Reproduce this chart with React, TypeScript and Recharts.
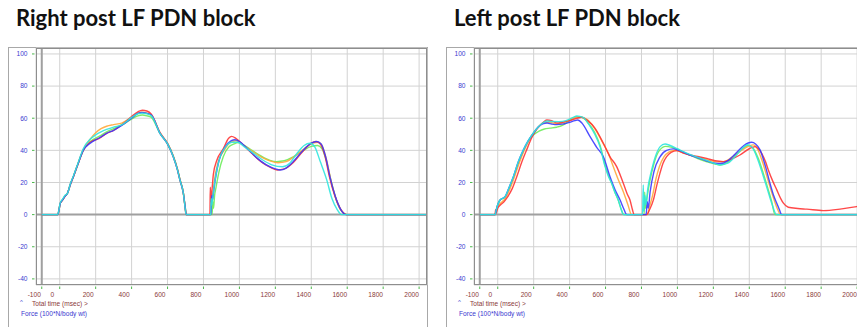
import React from 'react';
import { LineChart, Line, XAxis, YAxis, CartesianGrid, ReferenceLine } from 'recharts';

const X_TICKS = [-100, 0, 200, 400, 600, 800, 1000, 1200, 1400, 1600, 1800, 2000];
const Y_TICKS = [-40, -20, 0, 20, 40, 60, 80, 100];
const X_DOMAIN = [-132, 2044];
const Y_DOMAIN = [-43.8, 103.7];

const TITLE_RIGHT = 'Right post LF PDN block';
const TITLE_LEFT = 'Left post LF PDN block';
const X_CAPTION = 'Total time (msec) >';
const Y_CAPTION = 'Force (100*N/body wt)';

const COLORS = {
  red: '#ff3434',
  orange: '#ffa83a',
  green: '#6bec5a',
  blue: '#3a3aff',
  cyan: '#2fe6de',
};

// Panel 1: Right post LF PDN block  ([time msec, force])
const R_RED = [[-100,0],[-10,0],[-4,3],[3,7],[15,9],[30,11.5],[42,13],[60,19],[76,23.6],[100,31],[131,40],[170,45],[220,47.5],[261,50.5],[300,52.5],[345,55.8],[400,61],[435,64],[460,65],[485,64.5],[510,62.5],[558,51],[600,44],[632,36],[655,28],[669,21.6],[688,13.3],[697,5],[703,0],[836,0],[838,17],[842,8],[848,16],[855,25],[875,34],[910,41],[940,47.5],[957,48.7],[980,47.5],[1020,43.5],[1070,38],[1120,33],[1170,29.5],[1210,27.8],[1250,28.5],[1300,32.5],[1350,39],[1400,44.5],[1425,45.5],[1450,44],[1475,37],[1500,24],[1530,12],[1560,4],[1595,0],[2044,0]];
const R_ORANGE = [[-100,0],[-10,0],[-4,3],[3,7],[15,9],[30,11.5],[42,13],[60,19],[76,23.6],[100,31],[131,40.5],[170,47],[200,51],[230,53.5],[261,55],[300,56],[345,57],[400,60.5],[435,63],[458,63.8],[485,63.2],[510,62],[558,51],[600,44.5],[632,36.5],[655,28.5],[669,22],[688,13.5],[698,5],[704,0],[838,0],[845,6],[852,12],[862,22],[880,32],[915,40],[950,45],[980,46],[1020,43.5],[1070,39.5],[1120,36],[1170,33.5],[1215,32.3],[1260,33],[1310,36.5],[1360,41],[1410,44.5],[1440,45],[1460,43],[1485,34],[1510,21],[1540,9],[1570,2],[1595,0],[2044,0]];
const R_GREEN = [[-100,0],[-10,0],[-4,3],[3,7],[15,9],[30,11.5],[42,13],[60,19],[76,23.6],[100,31],[131,40],[170,45.5],[224,49],[261,51.5],[300,53.5],[345,55.8],[400,59.5],[435,61.5],[460,62],[485,61.5],[510,60.5],[558,50.5],[600,44],[632,36.5],[655,28.5],[669,22],[688,13.5],[698,5],[706,0],[848,0],[852,8],[856,4],[862,12],[870,17],[885,26],[910,36],[940,42],[970,44],[994,44.8],[1020,43.5],[1070,40],[1120,36.5],[1170,33.8],[1207,33],[1250,33.5],[1300,36],[1350,39.5],[1400,42.5],[1435,43],[1460,41],[1485,33],[1510,21],[1540,9],[1570,2],[1600,0],[2044,0]];
const R_BLUE = [[-100,0],[-10,0],[-4,3],[3,7],[15,9],[30,11.5],[42,13],[60,19],[76,23.6],[100,31],[131,40],[170,44.5],[224,48],[261,50.6],[300,52.5],[345,55.5],[400,60],[435,63],[458,63.6],[485,63],[510,62],[558,50.6],[600,44],[632,36],[655,28],[669,21.6],[688,13.3],[698,5],[704,0],[842,0],[846,12],[850,9],[856,14],[866,22],[885,33],[920,42],[955,46],[975,46.6],[1000,45.5],[1050,40.5],[1100,35],[1150,31],[1200,28.5],[1226,27.8],[1260,29],[1300,33],[1350,39.5],[1400,44.5],[1430,45.5],[1455,44],[1480,36],[1505,23],[1535,11],[1565,3],[1595,0],[2044,0]];
const R_CYAN = [[-100,0],[-12,0],[-6,2],[2,7],[15,9.5],[30,12],[42,13],[60,19.5],[76,24],[100,31.5],[131,41],[170,47],[200,49.6],[230,51.5],[261,53],[300,54.5],[345,55.8],[400,60.5],[435,62.8],[458,63.2],[485,62.8],[510,61.5],[558,50.6],[600,44],[632,36],[655,28],[669,21.6],[688,13.3],[697,5],[703,0],[840,0],[843,10],[847,6],[855,14],[868,24],[890,35],[925,42.5],[960,45],[990,45],[1030,42],[1080,38],[1130,34],[1180,31],[1240,29.8],[1280,32],[1320,38],[1360,43],[1393,44.4],[1420,42],[1450,33],[1486,21.6],[1515,10],[1545,3],[1569,0],[2044,0]];

// Panel 2: Left post LF PDN block
const L_RED = [[-100,0],[-15,0],[-12,3],[-8,1],[0,4],[15,6],[35,8],[55,11],[80,16],[106,23.6],[135,33],[161,40.3],[190,48],[220,53.5],[250,57],[273,58.9],[300,58.5],[328,57],[360,57.5],[400,58.5],[440,60],[467,60.6],[500,58.5],[540,54],[588,44.4],[625,36],[662,29.9],[699,19.5],[720,13],[736,9.1],[750,3],[759,0],[829,0],[845,3],[866,9],[885,18],[903,25.8],[920,32],[940,36.1],[965,38.8],[996,39.8],[1030,38.5],[1070,37.1],[1120,36],[1163,35],[1210,33.5],[1255,33],[1300,34.5],[1348,37.1],[1400,41],[1432,42.3],[1450,41],[1469,38.2],[1490,33],[1506,27.8],[1530,21],[1553,15.4],[1575,10],[1590,7.1],[1617,4.6],[1670,3.8],[1720,3.4],[1812,2.5],[1905,3.4],[1998,5],[2044,5.5]];
const L_ORANGE = [[-100,0],[-15,0],[-10,2],[0,5],[20,7.5],[41,10],[60,14],[85,21],[110,29],[140,38],[170,45.5],[200,51],[230,55],[260,57.5],[290,57.5],[328,56.5],[360,57],[400,59],[440,60.8],[470,60.5],[500,59],[540,53.5],[588,44],[616,38],[643,29.9],[670,22],[700,14],[725,6],[745,0],[832,0],[845,5],[862,12],[880,22],[900,30],[925,36],[955,39],[985,40],[1020,39],[1070,37],[1120,35.5],[1170,34],[1220,32.8],[1260,33],[1300,35.5],[1350,39.5],[1400,42.8],[1422,43.4],[1445,41],[1470,34],[1500,23],[1530,12],[1555,4],[1575,0],[2044,0]];
const L_GREEN = [[-100,0],[-14,0],[-8,3],[3,7],[13,9],[41,11],[60,15.5],[87,23],[115,32],[143,39.5],[170,45.5],[198,49.5],[230,52],[260,53.3],[291,53.8],[328,54.4],[360,55.5],[400,58.5],[440,61],[470,60.5],[500,57.5],[540,51],[570,43],[597,31],[615,25],[634,19.5],[652,14],[671,9],[688,3],[702,0],[815,0],[818,14],[822,4],[830,10],[845,20],[870,32],[900,40],[935,42.5],[965,42],[1010,40],[1060,37.5],[1110,35],[1160,33],[1210,31.5],[1237,30.9],[1280,32.5],[1320,36.5],[1360,41],[1395,43],[1420,41.5],[1450,35],[1480,25],[1506,15.4],[1525,8],[1543,0],[2044,0]];
const L_BLUE = [[-100,0],[-14,0],[-8,3],[3,7],[13,9.1],[41,11.2],[60,16],[87,23.6],[115,33],[143,40.3],[170,46],[198,50.6],[225,54.5],[250,56.5],[275,57],[300,56.4],[330,56],[360,56.3],[400,57.5],[430,58.5],[445,58.9],[470,56.8],[514,48.5],[550,42],[588,36],[625,23.6],[655,15],[681,9.1],[700,4],[718,0],[826,0],[832,8],[838,4],[848,14],[870,27],[903,36],[940,40],[977,40.9],[1010,40],[1060,37.5],[1110,35.5],[1160,33.5],[1210,32],[1240,31.8],[1280,33.5],[1320,37.5],[1370,43],[1413,45],[1435,44],[1460,40.3],[1490,30],[1515,19.5],[1535,12],[1553,7.1],[1568,3],[1580,0],[2044,0]];
const L_CYAN = [[-100,0],[-15,0],[-8,3],[3,7],[13,9.1],[41,11.2],[60,16],[87,23.6],[115,33],[143,40.3],[170,46],[198,50.8],[226,54.5],[250,57],[275,58.3],[300,58],[340,57.9],[380,58.5],[420,60.5],[440,61.4],[475,60.5],[505,56.5],[540,50],[570,42],[597,30],[615,24],[634,19.5],[652,14],[671,9.1],[688,3],[699,0],[806,0],[810,18.5],[813,2],[818,12],[825,6],[835,16],[855,27],[880,37],[904,42.3],[931,44],[960,43],[1000,41],[1033,39.2],[1080,37],[1130,35],[1180,33],[1237,30.9],[1280,32],[1320,36],[1360,41],[1390,43.5],[1415,42],[1445,35],[1475,25],[1500,16],[1525,7],[1552,0],[2044,0]];

const toRows = (pairs: number[][]) => pairs.map(([t, v]) => ({ t, v }));

const AXIS_FONT = '"Liberation Sans", Arial, sans-serif';

const XTick = (props: any) => {
  const { x, y, payload } = props;
  return (
    <g>
      <line x1={x} x2={x} y1={y + 1.5} y2={y + 4} stroke="#4cb84c" strokeWidth={1} />
      <text x={x - 7.5} y={y + 12} textAnchor="middle" fontSize={6.6} fill="#8a3a3a" fontFamily={AXIS_FONT}>
        {payload.value}
      </text>
    </g>
  );
};

const YTick = (props: any) => {
  const { x, y, payload } = props;
  return (
    <g>
      <line x1={x - 4} x2={x - 1.5} y1={y} y2={y} stroke="#4cb84c" strokeWidth={1} />
      <text x={x - 8.5} y={y + 2.3} textAnchor="end" fontSize={6.6} fill="#3a3ad0" fontFamily={AXIS_FONT}>
        {payload.value}
      </text>
    </g>
  );
};

type SeriesDef = { name: string; color: string; pairs: number[][] };

const Panel = ({ offset, title, series }: { offset: number; title: string; series: SeriesDef[] }) => (
  <div style={{ position: 'absolute', left: offset, top: 0, width: 430, height: 327 }}>
    <div
      style={{
        position: 'absolute',
        left: 16,
        top: 6,
        fontFamily: 'Lato, "Open Sans", sans-serif',
        fontWeight: 700,
        fontSize: 22,
        lineHeight: '24px',
        color: '#111',
        whiteSpace: 'nowrap',
      }}
    >
      {title}
    </div>
    <div
      style={{
        position: 'absolute',
        left: 8,
        top: 47,
        width: 420,
        height: 300,
        boxSizing: 'border-box',
        border: '1px solid #a8a8a8',
      }}
    />
    <div style={{ position: 'absolute', left: 8, top: 47 }}>
      <LineChart width={420} height={280} margin={{ top: 1, right: 1, bottom: 0, left: 0 }}>
        <CartesianGrid stroke="#d2d2d2" strokeWidth={1} />
        <XAxis
          type="number"
          dataKey="t"
          domain={X_DOMAIN}
          ticks={X_TICKS}
          allowDataOverflow
          axisLine={false}
          tickLine={false}
          tickSize={0}
          tickMargin={0}
          height={42}
          interval={0}
          tick={<XTick />}
        />
        <YAxis
          type="number"
          dataKey="v"
          domain={Y_DOMAIN}
          ticks={Y_TICKS}
          allowDataOverflow
          axisLine={false}
          tickLine={false}
          tickSize={0}
          tickMargin={0}
          width={28}
          interval={0}
          tick={<YTick />}
        />
        <ReferenceLine x={-100} stroke="#a0a0a0" strokeWidth={2} />
        <ReferenceLine y={0} stroke="#a0a0a0" strokeWidth={2} />
        {series.map((s) => (
          <Line
            key={s.name}
            name={s.name}
            data={toRows(s.pairs)}
            dataKey="v"
            type="monotone"
            stroke={s.color}
            strokeWidth={1.4}
            strokeOpacity={0.9}
            dot={false}
            activeDot={false}
            isAnimationActive={false}
          />
        ))}
      </LineChart>
    </div>
    <div
      style={{
        position: 'absolute',
        left: 36,
        top: 48,
        width: 391,
        height: 237,
        boxSizing: 'border-box',
        border: '1.5px solid #8e8e8e',
        pointerEvents: 'none',
      }}
    />
    <svg style={{ position: 'absolute', left: 0, top: 290 }} width={200} height={30}>
      <text x={20} y={14} fontSize={6} fill="#3a3ad0" fontFamily={AXIS_FONT}>^</text>
      <text x={32} y={16} fontSize={6.6} fill="#8a3a3a" fontFamily={AXIS_FONT}>{X_CAPTION}</text>
      <text x={21} y={25.5} fontSize={6.6} fill="#3a3ad0" fontFamily={AXIS_FONT}>{Y_CAPTION}</text>
    </svg>
  </div>
);

const PANEL_RIGHT: SeriesDef[] = [
  { name: 'green', color: COLORS.green, pairs: R_GREEN },
  { name: 'orange', color: COLORS.orange, pairs: R_ORANGE },
  { name: 'red', color: COLORS.red, pairs: R_RED },
  { name: 'blue', color: COLORS.blue, pairs: R_BLUE },
  { name: 'cyan', color: COLORS.cyan, pairs: R_CYAN },
];

const PANEL_LEFT: SeriesDef[] = [
  { name: 'green', color: COLORS.green, pairs: L_GREEN },
  { name: 'orange', color: COLORS.orange, pairs: L_ORANGE },
  { name: 'red', color: COLORS.red, pairs: L_RED },
  { name: 'blue', color: COLORS.blue, pairs: L_BLUE },
  { name: 'cyan', color: COLORS.cyan, pairs: L_CYAN },
];

export default function App() {
  return (
    <div
      style={{
        position: 'absolute',
        left: 0,
        top: 0,
        width: 857,
        height: 327,
        overflow: 'hidden',
        background: '#fff',
      }}
    >
      <Panel offset={0} title={TITLE_RIGHT} series={PANEL_RIGHT} />
      <Panel offset={438} title={TITLE_LEFT} series={PANEL_LEFT} />
    </div>
  );
}
